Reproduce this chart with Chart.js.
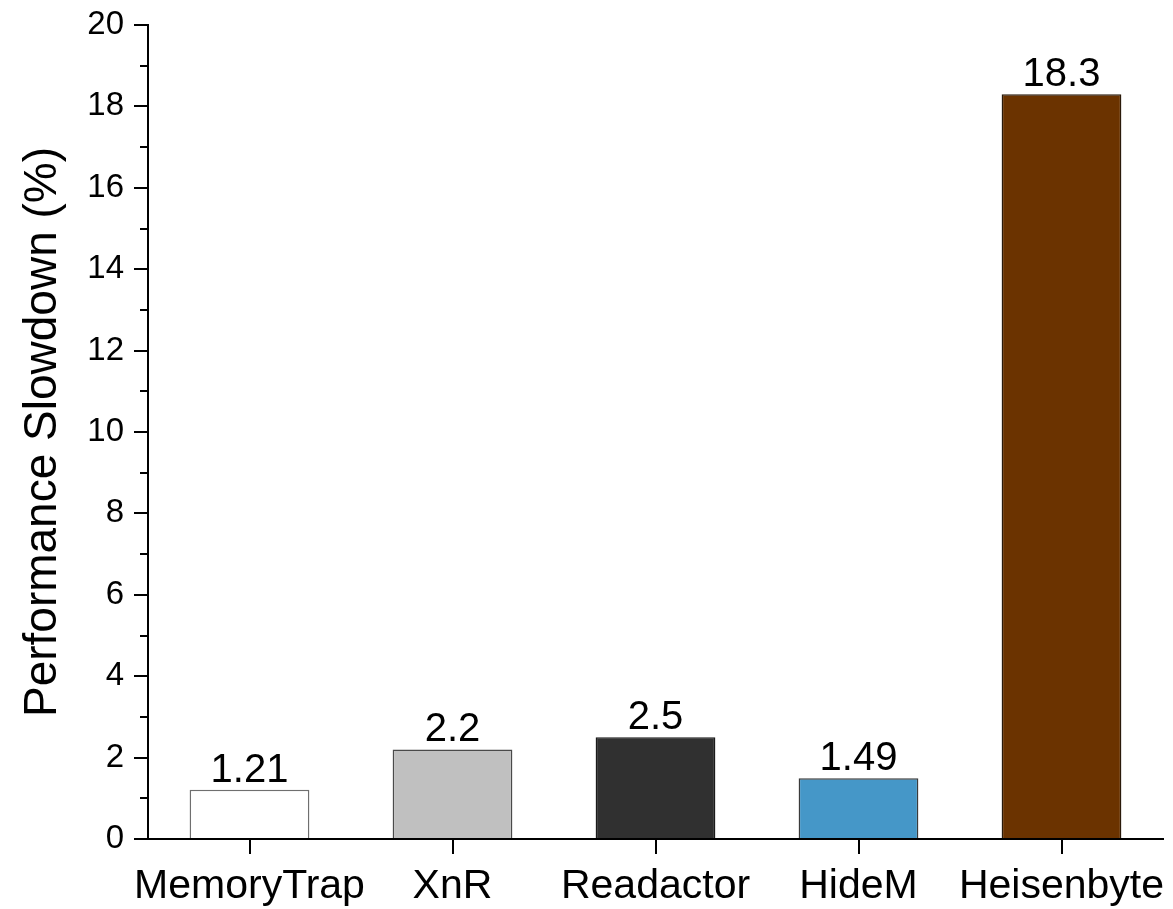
<!DOCTYPE html>
<html>
<head>
<meta charset="utf-8">
<title>Performance Slowdown</title>
<script src="https://cdn.jsdelivr.net/npm/chart.js@4/dist/chart.umd.min.js"></script>
<style>
  html, body { margin: 0; padding: 0; background: #fff; }
  .container { width: 1173px; height: 909px; position: relative; }
</style>
</head>
<body>
<div class="container">
  <canvas id="slowdown"></canvas>
</div>
<script>
const schemes = ['MemoryTrap', 'XnR', 'Readactor', 'HideM', 'Heisenbyte'];
const slowdown = [1.21, 2.2, 2.5, 1.49, 18.3];
const fillColors = ['#ffffff', '#c0c0c0', '#303030', '#4597c8', '#6b3300'];
const edgeColors = ['#6f6f6f', '#4a4a4a', '#1a1a1a', '#3a3a3a', '#2a1a0a'];
const yMax = 20;
const yStep = 2;

const FONT = "'Liberation Sans', Arial, sans-serif";

// short ticks at the odd values on the y axis
const minorTicks = {
    id: 'minorTicks',
    afterDraw(chart) {
        const y = chart.scales.y;
        const ctx = chart.ctx;
        const left = chart.chartArea.left;
        ctx.save();
        ctx.strokeStyle = '#000';
        ctx.lineWidth = 2;
        for (let v = 1; v < yMax; v += 2) {
            const py = Math.round(y.getPixelForValue(v));
            ctx.beginPath();
            ctx.moveTo(left - 8, py);
            ctx.lineTo(left, py);
            ctx.stroke();
        }
        ctx.restore();
    }
};

// numbers above each bar
const barValues = {
    id: 'barValues',
    afterDatasetsDraw(chart) {
        const ctx = chart.ctx;
        const meta = chart.getDatasetMeta(0);
        ctx.save();
        ctx.fillStyle = '#000';
        ctx.font = '40px ' + FONT;
        ctx.textAlign = 'center';
        ctx.textBaseline = 'alphabetic';
        meta.data.forEach((bar, i) => {
            ctx.fillText(String(slowdown[i]), bar.x, bar.y - 8);
        });
        ctx.restore();
    }
};

const ctx = document.getElementById('slowdown').getContext('2d');
new Chart(ctx, {
    type: 'bar',
    data: {
        labels: schemes,
        datasets: [
            {
                label: 'Performance Slowdown (%)',
                data: slowdown,
                backgroundColor: fillColors,
                borderColor: edgeColors,
                borderWidth: 1.5,
                barPercentage: 0.59,
                categoryPercentage: 1.0,
            }
        ]
    },
    options: {
        responsive: true,
        maintainAspectRatio: false,
        animation: false,
        layout: { padding: { top: 25, right: 10, left: 0, bottom: 0 } },
        plugins: {
            legend: { display: false },
            tooltip: { enabled: false },
        },
        scales: {
            x: {
                afterFit(scale) {
                    scale.height = 70;
                    scale.paddingLeft = 0;
                    scale.paddingRight = 0;
                },
                grid: {
                    offset: false,
                    drawOnChartArea: false,
                    color: '#000',
                    lineWidth: 2,
                    tickLength: 15,
                },
                border: { display: true, color: '#000', width: 2 },
                ticks: {
                    color: '#000',
                    padding: 8,
                    autoSkip: false,
                    maxRotation: 0,
                    font: { family: FONT, size: 41 },
                },
            },
            y: {
                min: 0,
                max: yMax,
                afterFit(scale) {
                    scale.width = 148;
                    scale.paddingTop = 0;
                    scale.paddingBottom = 0;
                },
                grid: {
                    drawOnChartArea: false,
                    color: '#000',
                    lineWidth: 2,
                    tickLength: 14,
                },
                border: { display: true, color: '#000', width: 2 },
                ticks: {
                    stepSize: yStep,
                    color: '#000',
                    padding: 10,
                    font: { family: FONT, size: 33 },
                },
                title: {
                    display: true,
                    text: 'Performance Slowdown (%)',
                    color: '#000',
                    padding: { top: 16, bottom: 0 },
                    font: { family: FONT, size: 46 },
                },
            }
        }
    },
    plugins: [minorTicks, barValues]
});
</script>
</body>
</html>
